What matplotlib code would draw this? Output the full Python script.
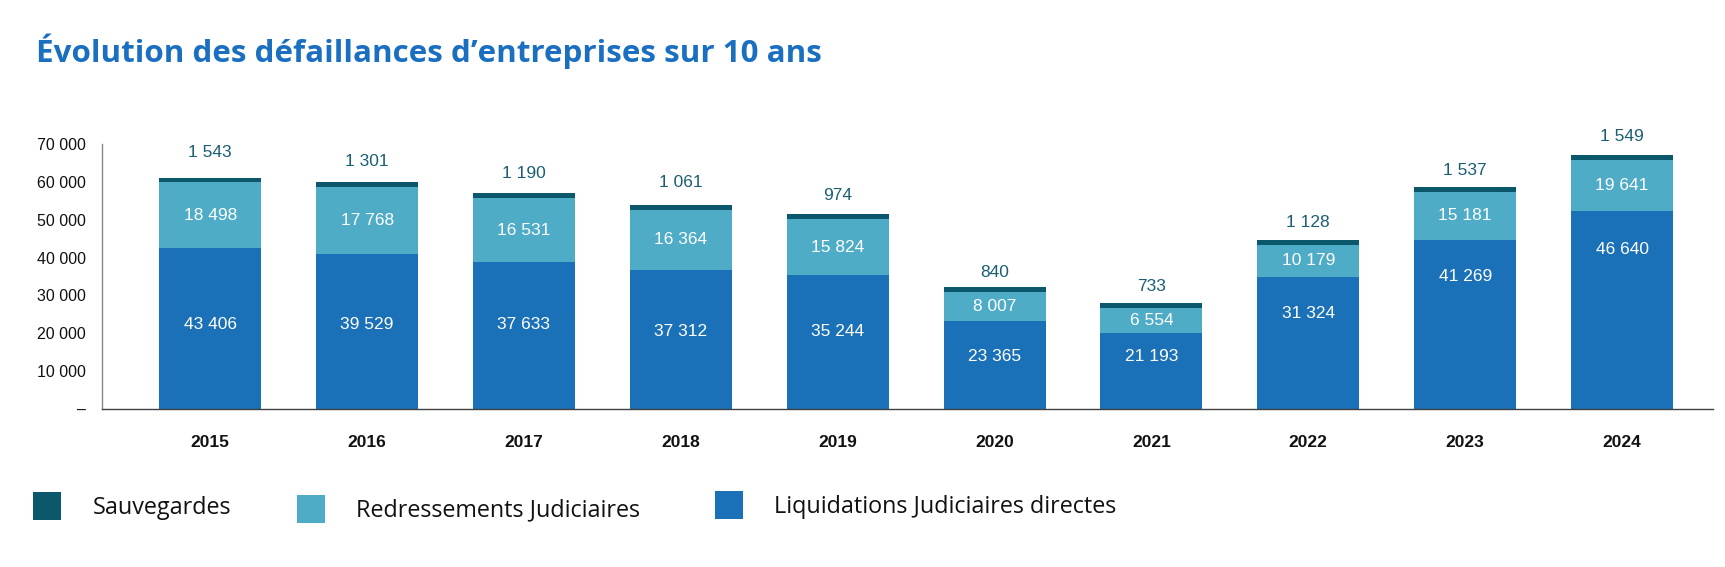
import matplotlib
matplotlib.use("Agg")
import matplotlib.pyplot as plt
import numpy as np

years = ["2015", "2016", "2017", "2018", "2019", "2020", "2021", "2022", "2023", "2024"]

# Bar heights as drawn in the picture
liquidations = [42600, 40860, 38910, 36800, 35310, 23160, 20000, 34950, 44720, 52380]
redressements = [17280, 17860, 16740, 15850, 14960, 7830, 6600, 8450, 12600, 13470]
sauvegardes = [1210, 1160, 1320, 1230, 1240, 1230, 1320, 1240, 1240, 1320]

# Values printed on the picture
liq_labels = [43406, 39529, 37633, 37312, 35244, 23365, 21193, 31324, 41269, 46640]
red_labels = [18498, 17768, 16531, 16364, 15824, 8007, 6554, 10179, 15181, 19641]
sau_labels = [1543, 1301, 1190, 1061, 974, 840, 733, 1128, 1537, 1549]

# Where the printed values sit (data units)
liq_label_y = [22190, 22190, 22190, 20420, 20420, 13800, 13800, 25270, 35130, 42000]
sau_label_y = [67700, 65320, 62250, 59770, 56520, 36000, 32300, 49210, 63130, 72110]

yticks = [0, 10000, 20000, 30000, 40000, 50000, 60000, 70000]
series_names = ["Sauvegardes", "Redressements Judiciaires", "Liquidations Judiciaires directes"]

C_LIQ = "#1b71b8"
C_RED = "#4eacc7"
C_SAU = "#0b586d"
C_TITLE = "#1a6fc1"

def fmt(v):
    return f"{v:,}".replace(",", " ")

W, H = 1725, 567
fig = plt.figure(figsize=(W / 100, H / 100), dpi=100)
ax = fig.add_axes([102 / W, 1 - 409 / H, (1713 - 102) / W, (409 - 144) / H])

x = np.arange(len(years))
liq = np.array(liquidations)
red = np.array(redressements)
sau = np.array(sauvegardes)
bw = 0.65
b1 = ax.bar(x, liq, bw, color=C_LIQ, label=series_names[2])
b2 = ax.bar(x, red, bw, bottom=liq, color=C_RED, label=series_names[1])
b3 = ax.bar(x, sau, bw, bottom=liq + red, color=C_SAU, label=series_names[0])

lab_font = dict(family=["Liberation Sans", "DejaVu Sans"], fontsize=12.5)
for i in range(len(years)):
    ax.text(x[i], liq_label_y[i], fmt(liq_labels[i]), ha="center", va="center", color="white", **lab_font)
    ax.text(x[i], liq[i] + red[i] / 2, fmt(red_labels[i]), ha="center", va="center", color="white", **lab_font)
    ax.text(x[i], sau_label_y[i], fmt(sau_labels[i]), ha="center", va="center", color="#1b5e72",
            clip_on=False, **lab_font)

ax.set_xlim(-0.69, 9.58)
ax.set_ylim(0, 70000)
ax.set_xticks(x)
ax.set_xticklabels(years, fontsize=12.5, fontweight="bold", family=["Liberation Sans", "DejaVu Sans"], color="#111111")
ax.set_yticks(yticks)
ax.set_yticklabels(["–" if v == 0 else fmt(v) for v in yticks], fontsize=11.5,
                   family=["Liberation Sans", "DejaVu Sans"], color="#111111")
ax.tick_params(axis="both", length=0)
ax.tick_params(axis="x", pad=19)
ax.tick_params(axis="y", pad=11.5)
for s in ["top", "right"]:
    ax.spines[s].set_visible(False)
ax.spines["left"].set_color("#8a8a8a")
ax.spines["left"].set_linewidth(1.0)
ax.spines["bottom"].set_color("#404040")
ax.spines["bottom"].set_linewidth(1.0)

fig.text(36 / W, 1 - 51 / H, "Évolution des défaillances d’entreprises sur 10 ans",
         fontsize=22.6, fontweight="bold", color=C_TITLE, va="center", ha="left",
         family=["Open Sans", "DejaVu Sans"])

# Legend: one entry per legend, placed like the reference
handles = [b3, b2, b1]
anchors = [(33, 506), (297, 509), (715, 505)]
fs = 16.8
for h, name, (ax_px, ay_px) in zip(handles, series_names, anchors):
    leg = fig.legend(handles=[h], labels=[name], loc="center left",
                     bbox_to_anchor=(ax_px / W, 1 - ay_px / H), frameon=False,
                     prop=dict(family="Open Sans", size=fs), handlelength=1.18, handleheight=1.436,
                     handletextpad=1.37, borderpad=0, borderaxespad=0)
    for t in leg.get_texts():
        t.set_color("#111111")

fig.savefig("out.png", dpi=100)
